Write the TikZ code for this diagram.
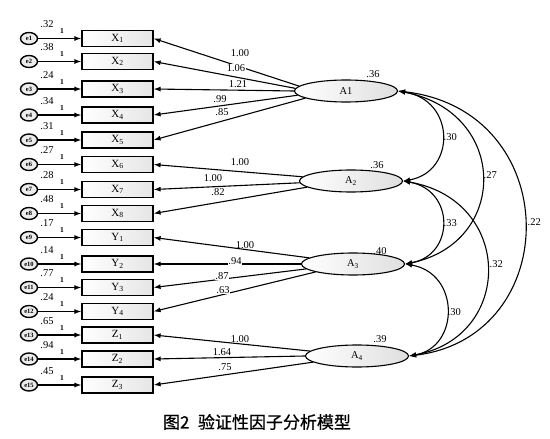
\documentclass[tikz,border=0pt]{standalone}
\usepackage{fontspec}
\setmainfont{Liberation Serif}
\newfontfamily\cjk[RawFeature={embolden=0.8}]{Noto Sans CJK SC}
\usetikzlibrary{arrows.meta,shapes.geometric}

\tikzset{
    tip/.style={line width=1.1pt,-{Latex[length=7pt,width=5pt]}},
    obs/.style={draw,line width=1.2pt,rectangle,minimum width=71pt,minimum height=16pt,inner sep=0pt,
        left color=white,right color=gray!20,font=\fontsize{11}{12}\selectfont},
    err/.style={draw,line width=1.4pt,ellipse,minimum width=17pt,minimum height=12pt,inner sep=0pt,
        fill=gray!15,font=\fontsize{6.5}{6.5}\selectfont\bfseries},
    lat/.style={draw,line width=1.1pt,ellipse,minimum width=103pt,minimum height=22pt,inner sep=0pt,
        left color=white,right color=gray!25,font=\fontsize{10.5}{12}\selectfont},
    num/.style={inner sep=0.5pt,font=\fontsize{10.5}{12}\selectfont},
    lnum/.style={num,fill=white},
    one/.style={inner sep=0pt,font=\fontsize{7.5}{8}\selectfont\bfseries},
    cov/.style={line width=1.1pt,{Latex[length=7pt,width=5pt]}-{Latex[length=7pt,width=5pt]}}
}

\begin{document}
\begin{tikzpicture}[x=1pt,y=-1pt]
    \useasboundingbox (0,0) rectangle (550,439);

    % Error terms and indicators
    \foreach \y/\L/\k/\v [count=\i] in {38.5/X/1/.32, 61.5/X/2/.38, 89/X/3/.24, 115/X/4/.34,
        140/X/5/.31, 164.5/X/6/.27, 189.5/X/7/.28, 213.5/X/8/.48, 237.5/Y/1/.17,
        264/Y/2/.14, 287.5/Y/3/.77, 311.5/Y/4/.24, 335/Z/1/.65, 359/Z/2/.94, 385/Z/3/.45} {
        \node[err] (e\i) at (29,\y) {e\i};
        \node[obs] (\L\k) at (117.5,\y) {\L\textsubscript{\k}};
        \draw[tip] (e\i) -- (\L\k);
        \node[one] at (62,\y-7) {1};
        \node[num] at (47,\y-14) {\v};
    }

    % Latent factors
    \node[lat] (A1) at (346,91) {A1};
    \node[lat] (A2) at (351,181) {A\textsubscript{2}};
    \node[lat] (A3) at (353,264) {A\textsubscript{3}};
    \node[lat] (A4) at (357,356) {A\textsubscript{4}};

    % Factor variances
    \node[num] at (373,74) {.36};
    \node[num] at (377,165) {.36};
    \node[num] at (380,251) {.40};
    \node[num] at (380,339) {.39};

    % Loadings
    \draw[tip] (A1.174) -- (X1.east);
    \draw[tip] (A1.177) -- (X2.east);
    \draw[tip] (A1.180) -- (X3.east);
    \draw[tip] (A1.185) -- (X4.east);
    \draw[tip] (A1.190) -- (X5.east);
    \draw[tip] (A2.175) -- (X6.east);
    \draw[tip] (A2.182) -- (X7.east);
    \draw[tip] (A2.188) -- (X8.east);
    \draw[tip] (A3.172) -- (Y1.east);
    \draw[tip] (A3.180) -- (Y2.east);
    \draw[tip] (A3.186) -- (Y3.east);
    \draw[tip] (A3.192) -- (Y4.east);
    \draw[tip] (A4.174) -- (Z1.east);
    \draw[tip] (A4.180) -- (Z2.east);
    \draw[tip] (A4.188) -- (Z3.east);

    % Loading values
    \node[num] at (240,53) {1.00};
    \node[lnum] at (236,68) {1.06};
    \node[lnum] at (238,84) {1.21};
    \node[lnum] at (220,99) {.99};
    \node[lnum] at (222,112) {.85};
    \node[num] at (240,162) {1.00};
    \node[lnum] at (213,178) {1.00};
    \node[lnum] at (218,192) {.82};
    \node[num] at (245,245) {1.00};
    \node[lnum] at (235,261) {.94};
    \node[lnum] at (222,276) {.87};
    \node[lnum] at (223,290) {.63};
    \node[num] at (240,339) {1.00};
    \node[lnum] at (222,352) {1.64};
    \node[lnum] at (225,367) {.75};

    % Covariances
    \draw[cov] (A1.east) .. controls (456,100) and (456,172) .. (A2.east);
    \draw[cov] (A2.east) .. controls (455,190) and (455,255) .. (A3.east);
    \draw[cov] (A3.east) .. controls (460,273) and (460,347) .. (A4.east);
    \draw[cov] (A1.east) .. controls (509,112) and (509,243) .. (A3.east);
    \draw[cov] (A2.east) .. controls (514,200) and (514,337) .. (A4.east);
    \draw[cov] (A1.east) .. controls (565,110) and (565,337) .. (A4.east);

    \node[num,anchor=west] at (443,137) {.30};
    \node[num,anchor=west] at (443,223) {.33};
    \node[num,anchor=west] at (447,312) {.30};
    \node[num,anchor=west] at (483,175) {.27};
    \node[num,anchor=west] at (489,264) {.32};
    \node[num,anchor=west] at (527,222) {.22};

    % Caption
    \node[font=\cjk\fontsize{17}{19}\selectfont] (cap) at (257,422) {图2\hspace{0.5em}验证性因子分析模型};
\end{tikzpicture}
\end{document}
